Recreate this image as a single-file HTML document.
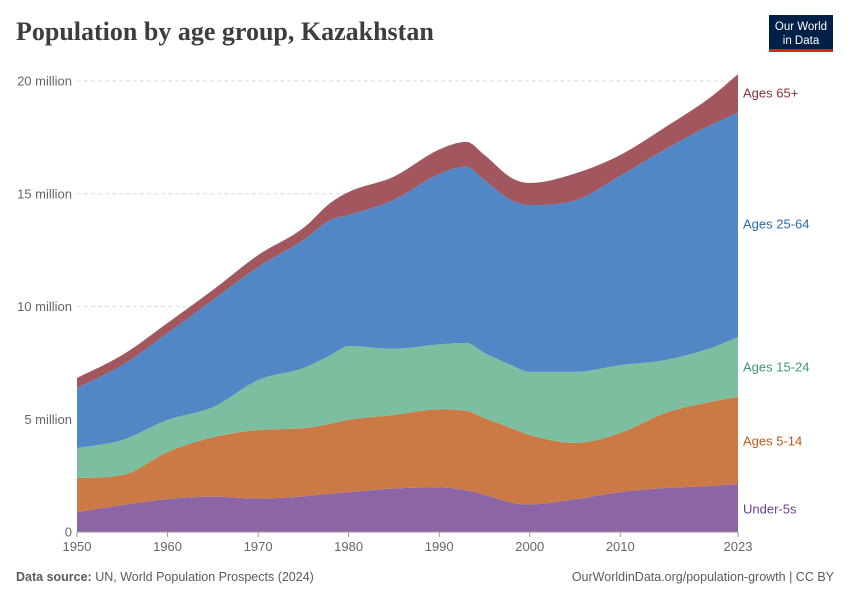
<!DOCTYPE html>
<html><head><meta charset="utf-8"><style>
body{margin:0;background:#fff;font-family:"Liberation Sans",sans-serif;}
svg text{font-family:"Liberation Sans",sans-serif;}
</style></head><body>
<svg width="850" height="600" viewBox="0 0 850 600" xmlns="http://www.w3.org/2000/svg">
<text x="16" y="40" font-size="26" font-weight="bold" fill="#3d3d3d" style="font-family:'Liberation Serif',serif">Population by age group, Kazakhstan</text>
<g>
<rect x="769" y="15" width="64" height="37" fill="#002147"/>
<rect x="769" y="49" width="64" height="3" fill="#ce261e"/>
<text x="801" y="30" font-size="11.5" fill="#fff" text-anchor="middle">Our World</text>
<text x="801" y="44" font-size="11.5" fill="#fff" text-anchor="middle">in Data</text>
</g>
<g id="grid"></g>
<g id="areas"></g>
<g id="xaxis"></g>
<g id="labels"></g>
<text x="16" y="581" font-size="12.5" fill="#5b5b5b"><tspan font-weight="bold">Data source:</tspan> UN, World Population Prospects (2024)</text>
<text x="834" y="581" font-size="12.5" fill="#5b5b5b" text-anchor="end">OurWorldinData.org/population-growth | CC BY</text>
</svg>
<script>
const years=[1950,1955,1960,1965,1970,1975,1978,1980,1985,1990,1993,1995,1998,2000,2005,2010,2015,2020,2023];
const under5=[0.88,1.2,1.46,1.57,1.48,1.58,1.7,1.77,1.93,1.98,1.85,1.65,1.3,1.22,1.45,1.77,1.95,2.04,2.13];
const age5to14=[1.51,1.32,2.09,2.63,3.04,3.02,3.1,3.2,3.26,3.45,3.52,3.4,3.3,3.08,2.5,2.62,3.33,3.73,3.86];
const age15to24=[1.33,1.56,1.42,1.34,2.22,2.67,3.05,3.28,2.94,2.89,3.01,2.89,2.8,2.8,3.15,3.01,2.35,2.39,2.66];
const age25to64=[2.67,3.32,3.85,4.75,5.01,5.68,5.99,5.81,6.6,7.56,7.82,7.66,7.3,7.4,7.6,8.4,9.35,9.89,9.95];
const age65plus=[0.44,0.45,0.45,0.44,0.53,0.53,0.76,1.02,1.03,1.08,1.1,1.12,1.0,0.98,1.2,0.92,0.98,1.24,1.7];
const yTicks=[0,5,10,15,20];
const yTickLabels=["0","5 million","10 million","15 million","20 million"];
const xTicks=[1950,1960,1970,1980,1990,2000,2010,2023];
const seriesNames=["Under-5s","Ages 5-14","Ages 15-24","Ages 25-64","Ages 65+"];
const NS="http://www.w3.org/2000/svg";
const X0=77,X1=738,Y0=532,Y1=81;
const xs=y=>X0+(y-1950)/(2023-1950)*(X1-X0);
const ys=v=>Y0-v/20*(Y0-Y1);
function mk(tag,attrs,parent){const e=document.createElementNS(NS,tag);for(const k in attrs)e.setAttribute(k,attrs[k]);parent.appendChild(e);return e;}
function monoPath(px,py,start){
 const n=px.length,d=[],m=[];
 for(let i=0;i<n-1;i++)d.push((py[i+1]-py[i])/(px[i+1]-px[i]));
 m[0]=d[0];m[n-1]=d[n-2];
 for(let i=1;i<n-1;i++)m[i]=(d[i-1]*d[i]<=0)?0:(d[i-1]+d[i])/2;
 for(let i=0;i<n-1;i++){if(d[i]===0){m[i]=0;m[i+1]=0;continue;}const a=m[i]/d[i],b=m[i+1]/d[i],s=a*a+b*b;if(s>9){const t=3/Math.sqrt(s);m[i]=t*a*d[i];m[i+1]=t*b*d[i];}}
 let p=(start?'M':'L')+px[0]+','+py[0];
 for(let i=0;i<n-1;i++){const h=(px[i+1]-px[i])/3;p+='C'+(px[i]+h)+','+(py[i]+m[i]*h)+' '+(px[i+1]-h)+','+(py[i+1]-m[i+1]*h)+' '+px[i+1]+','+py[i+1];}
 return p;
}
const grid=document.getElementById('grid');
yTicks.forEach((t,i)=>{
 if(t>0){const l=mk('line',{x1:X0,x2:X1,y1:ys(t),y2:ys(t),stroke:'#ddd','stroke-dasharray':'4,3'},grid);
 
 }
 const tx=mk('text',{x:72,y:ys(t)+4.5,'font-size':13,fill:'#666','text-anchor':'end'},grid);
 tx.textContent=yTickLabels[i];
 
 
});
const series=[under5,age5to14,age15to24,age25to64,age65plus];
const fills=['#8b65a6','#cb7a46','#7bbea0','#5287c6','#a2575f'];
const textCols=['#6d3e91','#c05917','#3d9a78','#2c6ab2','#883039'];
const areaNames=['area-under-5s','area-ages-5-14','area-ages-15-24','area-ages-25-64','area-ages-65-plus'];
const areas=document.getElementById('areas');
let base=years.map(()=>0);
series.forEach((s,k)=>{
 const top=base.map((b,i)=>b+s[i]);
 const px=years.map(xs);
 let d=monoPath(px,top.map(ys),true);
 d+=monoPath(px.slice().reverse(),base.map(ys).reverse(),false)+'Z';
 const p=mk('path',{d:d,fill:fills[k]},areas);
 
 
 base=top;
});
const xa=document.getElementById('xaxis');
const ax=mk('line',{x1:X0,x2:X1,y1:Y0,y2:Y0,stroke:'#999'},xa);


xTicks.forEach(t=>{
 mk('line',{x1:xs(t),x2:xs(t),y1:Y0,y2:Y0+5,stroke:'#999'},xa);
 const tx=mk('text',{x:xs(t),y:551,'font-size':13,fill:'#666','text-anchor':'middle'},xa);
 tx.textContent=t;
 
 
});
const lab=document.getElementById('labels');
const labelY=[509,441,367,224,93];
seriesNames.forEach((n,k)=>{
 const tx=mk('text',{x:743,y:labelY[k]+4.5,'font-size':13,fill:textCols[k]},lab);
 tx.textContent=n;
 
 
});
</script>
</body></html>
